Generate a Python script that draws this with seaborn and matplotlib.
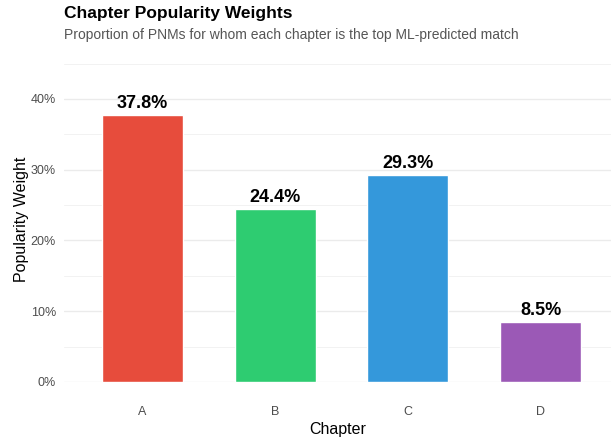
import matplotlib
matplotlib.use("Agg")
import matplotlib.pyplot as plt
import seaborn as sns
import pandas as pd
from matplotlib.ticker import PercentFormatter, MultipleLocator

chapters = ["A", "B", "C", "D"]
weights = [0.378, 0.244, 0.293, 0.085]
colors = ["#E74C3C", "#2ECC71", "#3498DB", "#9B59B6"]

df = pd.DataFrame({"Chapter": chapters, "Weight": weights})

sns.set_theme(style="whitegrid")
plt.rcParams["font.family"] = ["Liberation Sans", "DejaVu Sans"]

fig = plt.figure(figsize=(6.11, 4.38), dpi=100)
ax = fig.add_axes([0.105, 0.128, 0.895, 0.743])

sns.barplot(data=df, x="Chapter", y="Weight", hue="Chapter", palette=colors,
            width=0.61, legend=False, ax=ax, saturation=1)

# value labels above bars
for i, w in enumerate(weights):
    ax.text(i, w + 0.004, f"{w*100:.1f}%", ha="center", va="bottom",
            fontsize=13, fontweight="bold", color="black")

ax.set_ylim(0, 0.46)
ax.set_xlim(-0.59, 3.53)
ax.yaxis.set_major_locator(MultipleLocator(0.1))
ax.yaxis.set_minor_locator(MultipleLocator(0.05))
ax.yaxis.set_major_formatter(PercentFormatter(1.0, decimals=0))
ax.set_facecolor("white")
ax.grid(axis="y", which="major", color="#EBEBEB", linewidth=1.0)
ax.grid(axis="y", which="minor", color="#F2F2F2", linewidth=0.7)
ax.grid(axis="x", visible=False)
ax.set_axisbelow(True)
for s in ax.spines.values():
    s.set_visible(False)
ax.tick_params(axis="both", which="both", length=0, labelsize=9, colors="#4D4D4D")
ax.tick_params(axis="y", pad=6)
ax.tick_params(axis="x", pad=17)
ax.set_xlabel("Chapter", fontsize=11.5, color="black", labelpad=3)
ax.set_ylabel("Popularity Weight", fontsize=11.5, color="black", labelpad=1)

fig.text(0.105, 0.969, "Chapter Popularity Weights", fontsize=12.5, fontweight="bold",
         color="black", ha="left", va="center")
fig.text(0.105, 0.919, "Proportion of PNMs for whom each chapter is the top ML-predicted match",
         fontsize=10, color="#555555", ha="left", va="center")

fig.savefig("out.png", dpi=100, facecolor="white")
